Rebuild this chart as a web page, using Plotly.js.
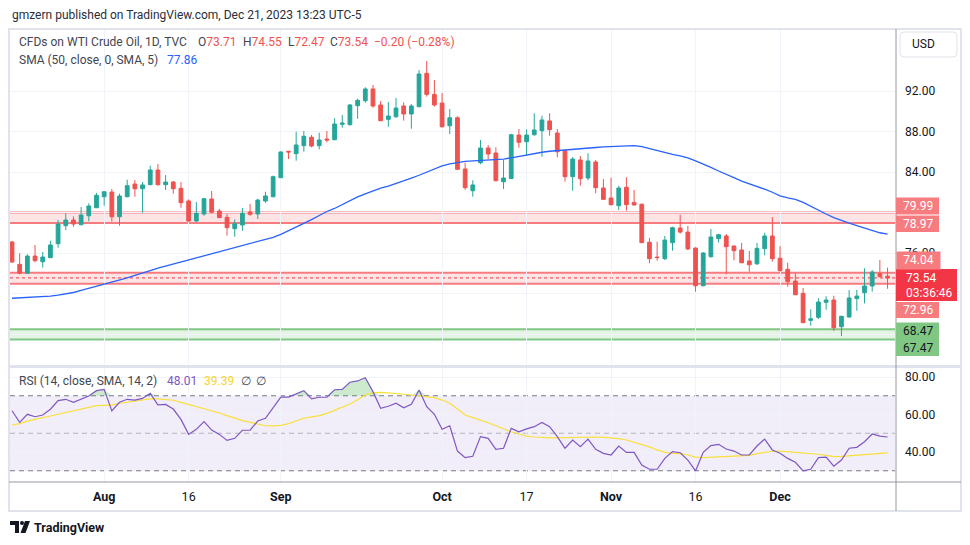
<!DOCTYPE html>
<html><head><meta charset="utf-8">
<script src="https://cdn.plot.ly/plotly-3.0.1.min.js"></script>
<style>html,body{margin:0;padding:0;background:#fff}#chart{width:970px;height:545px}</style>
</head><body><div id="chart"></div>
<script>
// ---- data (daily, Jul 14 – Dec 21 2023, weekdays) ----
const firstDay = '2023-07-14', lastDay = '2023-12-21';
const open = [77.09,74.88,74.00,75.70,75.14,75.54,76.92,78.70,79.26,78.79,
79.68,80.47,81.56,82.02,79.58,81.56,82.81,82.35,82.75,84.20,
82.75,83.01,82.39,81.14,79.16,79.85,81.33,80.15,79.53,78.40,
78.77,80.05,79.85,81.14,81.56,83.44,86.04,85.81,86.60,87.43,
86.60,87.26,87.19,88.71,88.67,90.55,91.04,92.20,90.62,89.20,
89.46,90.52,89.73,90.45,93.75,91.67,90.81,88.57,89.36,84.30,
82.15,84.92,86.37,85.88,83.04,83.35,87.65,86.99,87.68,88.08,
89.04,87.85,86.10,83.54,85.19,83.41,84.99,82.42,81.43,80.67,
82.49,81.00,80.81,77.06,75.60,75.44,77.02,78.47,78.07,76.49,
72.77,75.64,77.42,77.68,76.69,76.30,75.21,74.94,76.43,77.68,
75.48,74.39,73.23,72.02,69.35,69.65,71.13,71.36,68.72,69.68,
71.50,72.08,72.74,73.96,73.71];
const high = [77.19,75.97,75.87,76.79,76.10,77.21,79.26,79.92,79.62,80.54,
80.91,81.93,82.12,82.32,81.86,83.24,83.21,83.01,84.62,84.79,
83.70,83.11,83.01,81.30,81.04,81.46,82.12,80.35,79.85,79.33,
80.44,80.84,81.36,82.05,83.64,86.04,86.10,87.98,88.05,87.65,
87.88,88.05,89.30,89.63,90.72,91.24,92.37,92.59,91.01,90.91,
91.31,90.88,90.72,94.07,94.96,93.09,91.80,90.22,89.50,84.92,
83.18,87.16,86.67,86.44,85.19,87.78,88.25,88.22,89.80,89.56,
89.80,88.25,86.15,85.48,85.58,85.85,85.19,83.31,83.44,82.65,
83.48,82.22,80.91,77.48,77.12,77.68,78.60,79.78,78.67,76.56,
76.10,78.37,77.88,77.88,76.75,76.99,76.20,76.99,78.00,79.56,
76.69,75.04,74.00,72.54,70.44,71.53,71.72,71.78,69.80,72.35,
72.35,74.49,74.32,75.31,74.55];
const low = [75.05,73.90,73.95,75.08,74.55,75.50,76.52,78.27,78.60,78.75,
79.13,80.45,80.67,79.10,78.70,81.50,81.56,79.98,82.70,82.65,
82.22,81.86,80.47,79.06,79.06,79.68,79.92,79.45,77.71,77.61,
78.20,79.68,79.36,80.97,81.50,83.40,85.28,85.12,86.00,86.44,
86.24,86.93,87.15,88.38,88.60,89.26,90.84,90.35,89.00,88.47,
89.36,89.07,88.28,90.40,91.44,90.45,88.40,87.75,84.20,82.25,
81.56,84.76,85.25,83.10,82.32,83.30,86.40,85.65,87.60,85.51,
87.59,85.45,83.04,82.15,82.65,83.18,81.90,81.25,80.70,80.25,
80.18,80.70,77.00,74.98,75.24,75.31,76.23,77.91,76.30,72.18,
72.70,75.54,77.02,73.90,75.28,75.00,74.15,74.81,75.77,75.14,
74.20,72.67,71.85,69.10,68.82,69.48,70.40,68.30,67.80,69.61,
70.30,71.03,72.18,73.60,72.47];
const close = [75.11,74.00,75.70,75.24,75.60,76.79,78.86,79.26,78.86,79.75,
80.64,81.70,82.05,79.58,81.63,82.65,82.35,82.72,84.20,82.75,
83.01,82.35,80.97,79.16,79.92,81.36,80.02,79.49,78.50,78.89,
79.92,79.82,81.23,81.63,83.54,85.98,85.98,86.67,87.53,86.57,
87.16,87.16,88.74,88.84,90.62,91.08,92.20,90.52,89.07,89.53,
90.32,89.73,90.52,93.68,91.67,90.62,88.47,89.36,84.27,82.45,
82.72,86.37,85.78,83.14,83.41,87.68,86.93,87.65,88.15,89.14,
88.18,86.00,83.54,85.28,83.34,85.09,82.45,81.30,80.77,82.42,
80.77,80.74,77.02,75.44,75.55,77.28,78.50,78.07,76.40,72.77,
76.00,77.58,77.81,76.62,76.23,75.04,74.84,76.46,77.68,75.44,
74.25,73.17,71.88,69.12,69.51,71.16,71.36,68.62,69.75,71.56,
71.75,72.74,74.12,73.66,73.54];
const sma50 = [71.53,71.57,71.60,71.63,71.68,71.75,71.85,71.95,72.10,72.30,
72.50,72.72,72.92,73.12,73.30,73.55,73.80,74.00,74.25,74.50,
74.70,74.90,75.10,75.30,75.50,75.70,75.92,76.10,76.30,76.50,
76.70,76.92,77.10,77.30,77.55,77.85,78.20,78.55,78.90,79.30,
79.70,80.10,80.40,80.80,81.20,81.55,81.85,82.15,82.40,82.60,
82.85,83.10,83.40,83.68,84.00,84.35,84.60,84.80,84.95,85.05,
85.10,85.15,85.20,85.22,85.28,85.40,85.55,85.70,85.85,85.95,
86.05,86.10,86.18,86.25,86.30,86.36,86.42,86.48,86.52,86.57,
86.60,86.60,86.50,86.30,86.10,85.90,85.75,85.60,85.40,85.10,
84.80,84.45,84.10,83.80,83.45,83.10,82.85,82.60,82.30,82.00,
81.65,81.45,81.30,81.00,80.60,80.20,79.85,79.50,79.20,78.95,
78.70,78.45,78.20,78.00,77.86];
const rsi = [62.0,55.8,60.1,58.8,59.7,62.8,67.4,68.1,66.5,68.1,
69.9,72.7,73.4,61.9,66.5,68.1,67.7,68.6,71.3,65.1,
65.4,62.9,57.4,49.4,52.1,56.2,51.7,49.4,46.2,47.3,
51.6,51.6,56.5,58.0,63.6,69.3,69.3,71.1,72.7,68.3,
69.2,69.3,73.2,73.4,77.2,77.9,79.6,72.2,63.3,64.4,
66.0,63.6,65.4,73.1,64.2,60.1,52.1,54.0,40.5,37.0,
37.7,48.2,47.3,41.4,42.0,52.6,50.8,52.3,53.5,55.8,
53.5,48.2,42.0,46.4,42.8,46.9,41.4,39.3,38.4,43.2,
39.8,39.8,33.1,30.8,30.8,36.6,40.2,39.6,35.7,29.9,
39.8,43.4,44.1,41.6,40.5,38.4,38.4,43.2,46.9,41.1,
39.3,36.6,34.5,29.9,30.8,37.0,37.3,32.4,35.7,42.0,
42.5,45.5,49.6,48.5,48.0];
const rsiMa = [54.4,55.1,56.5,57.6,58.3,59.2,60.1,60.8,61.9,62.8,
63.8,64.7,64.9,65.1,66.0,66.5,67.2,67.7,68.3,68.3,
68.1,67.6,66.5,65.4,64.2,63.3,61.9,60.8,59.4,58.0,
56.7,55.8,54.8,54.0,53.9,54.2,55.1,56.5,58.0,58.7,
59.4,60.6,62.2,63.8,65.6,67.9,70.4,71.6,71.8,71.5,
71.3,70.8,70.4,70.0,69.5,69.0,67.7,66.0,62.9,59.7,
58.3,57.1,55.6,54.0,52.3,50.8,49.6,48.5,48.0,47.6,
47.5,47.5,47.6,47.8,48.2,48.2,48.0,47.8,47.5,47.1,
46.4,45.3,44.1,42.7,41.1,39.8,39.3,39.1,38.4,37.3,
37.0,37.2,37.5,37.7,37.7,37.9,38.2,39.1,39.8,40.4,
40.5,40.2,39.8,39.6,39.1,38.8,38.2,37.5,37.7,38.0,
38.2,38.4,38.8,39.1,39.5];
const tickDates = ['2023-08-01','2023-08-16','2023-09-01','2023-10-02','2023-10-17','2023-11-01','2023-11-16','2023-12-01'];
const tickLabels = ['<b>Aug</b>','16','<b>Sep</b>','<b>Oct</b>','17','<b>Nov</b>','16','<b>Dec</b>'];
const priceTicks = [68,72,76,80,84,88,92];
const priceTickText = ['','','76.00','','84.00','88.00','92.00'];
const rsiTicks = [40,60,80];
const redZone = [78.97, 79.99];
const midZone = [72.96, 74.04];
const lastPrice = 73.54;
const greenZone = [67.47, 68.47];

// weekday categories
const dates = [];
for (let d = new Date(firstDay + 'T00:00:00Z'); d <= new Date(lastDay + 'T00:00:00Z'); d.setUTCDate(d.getUTCDate() + 1)) {
  const wd = d.getUTCDay();
  if (wd !== 0 && wd !== 6) dates.push(d.toISOString().slice(0, 10));
}

const W = 970, H = 545;
const X = v => v / W, Y = v => 1 - v / H;
const xL = X(10), xR = X(895);
const UP = '#26a69a', DN = '#ef5350';

const traces = [
  {type:'candlestick', x:dates, open:open, high:high, low:low, close:close, xaxis:'x', yaxis:'y',
   increasing:{line:{color:UP,width:1}, fillcolor:UP}, decreasing:{line:{color:DN,width:1}, fillcolor:DN},
   whiskerwidth:0, hoverinfo:'skip'},
  {type:'scatter', mode:'lines', x:dates, y:sma50, xaxis:'x', yaxis:'y', line:{color:'#2962ff', width:1.3}, hoverinfo:'skip'},
  {type:'scatter', mode:'lines', x:dates, y:rsi.map(() => 70), xaxis:'x', yaxis:'y2', line:{width:0}, hoverinfo:'skip'},
  {type:'scatter', mode:'lines', x:dates, y:rsi.map(v => Math.max(v, 70)), xaxis:'x', yaxis:'y2', line:{width:0},
   fill:'tonexty', fillcolor:'rgba(76,175,80,0.28)', hoverinfo:'skip'},
  {type:'scatter', mode:'lines', x:dates, y:rsiMa, xaxis:'x', yaxis:'y2', line:{color:'#f9df3a', width:1.2}, hoverinfo:'skip'},
  {type:'scatter', mode:'lines', x:dates, y:rsi, xaxis:'x', yaxis:'y2', line:{color:'#7e57c2', width:1.2}, hoverinfo:'skip'}
];

const shapes = [];
function hband(zone, fill, lc, yref) {
  shapes.push({type:'rect', xref:'paper', yref:yref, x0:xL, x1:xR, y0:zone[0], y1:zone[1], fillcolor:fill, line:{width:0}, layer:'between'});
  zone.forEach(v => shapes.push({type:'line', xref:'paper', yref:yref, x0:xL, x1:xR, y0:v, y1:v, line:{color:lc, width:2}, layer:'between'}));
}
hband(redZone, 'rgba(247,124,128,0.2)', '#f77c80', 'y');
hband(midZone, 'rgba(247,124,128,0.2)', '#f77c80', 'y');
hband(greenZone, 'rgba(129,199,132,0.22)', '#81c784', 'y');
shapes.push({type:'line', xref:'paper', yref:'y', x0:xL, x1:xR, y0:lastPrice, y1:lastPrice, line:{color:'#f23645', width:1, dash:'dot'}, layer:'between'});
// RSI band
shapes.push({type:'rect', xref:'paper', yref:'y2', x0:xL, x1:xR, y0:30, y1:70, fillcolor:'rgba(126,87,194,0.1)', line:{width:0}, layer:'below'});
[70, 30].forEach(v => shapes.push({type:'line', xref:'paper', yref:'y2', x0:xL, x1:xR, y0:v, y1:v, line:{color:'#787b86', width:1, dash:'5px,4px'}, layer:'between'}));
shapes.push({type:'line', xref:'paper', yref:'y2', x0:xL, x1:xR, y0:50, y1:50, line:{color:'rgba(120,123,134,0.5)', width:1, dash:'5px,4px'}, layer:'between'});

// frame
const pl = (x0,y0,x1,y1,c,w) => shapes.push({type:'line', xref:'paper', yref:'paper', x0:X(x0), y0:Y(y0), x1:X(x1), y1:Y(y1), line:{color:c, width:w}, layer:'above'});
shapes.push({type:'rect', xref:'paper', yref:'paper', x0:X(9), x1:X(961), y0:Y(511), y1:Y(29), line:{color:'#e0e3eb', width:2}, fillcolor:'rgba(0,0,0,0)', layer:'above'});
pl(9, 366.5, 961, 366.5, '#e0e3eb', 3);
pl(9, 482, 961, 482, '#9598a1', 1);
pl(896, 29, 896, 511, '#9598a1', 1);
// USD button
(function(){const x0=900,x1=957,y0=32,y1=57,r=4;
shapes.push({type:'path', xref:'paper', yref:'paper', layer:'above', line:{color:'#e0e3eb', width:1}, fillcolor:'#fff',
 path:`M${X(x0+r)},${Y(y0)} L${X(x1-r)},${Y(y0)} Q${X(x1)},${Y(y0)} ${X(x1)},${Y(y0+r)} L${X(x1)},${Y(y1-r)} Q${X(x1)},${Y(y1)} ${X(x1-r)},${Y(y1)} L${X(x0+r)},${Y(y1)} Q${X(x0)},${Y(y1)} ${X(x0)},${Y(y1-r)} L${X(x0)},${Y(y0+r)} Q${X(x0)},${Y(y0)} ${X(x0+r)},${Y(y0)} Z`});})();
// price label boxes
const box = (x0,x1,y0,y1,c) => shapes.push({type:'rect', xref:'paper', yref:'paper', x0:X(x0), x1:X(x1), y0:Y(y1), y1:Y(y0), fillcolor:c, line:{width:0}, layer:'above'});
box(896, 939, 197.5, 214.5, '#f77c80');
box(896, 939, 215.5, 232, '#f77c80');
box(896, 957, 269, 301, '#f23645');
box(896, 939, 302, 318, '#f77c80');
box(896, 939, 322.5, 356, '#81c784');
// logo
shapes.push({type:'path', xref:'paper', yref:'paper', layer:'above', fillcolor:'#131722', line:{width:0},
  path:`M${X(10)},${Y(521)} L${X(19)},${Y(521)} L${X(19)},${Y(533)} L${X(15)},${Y(533)} L${X(15)},${Y(525)} L${X(10)},${Y(525)} Z`});
shapes.push({type:'circle', xref:'paper', yref:'paper', layer:'above', fillcolor:'#131722', line:{width:0}, x0:X(20), x1:X(24), y0:Y(525), y1:Y(521)});
shapes.push({type:'path', xref:'paper', yref:'paper', layer:'above', fillcolor:'#131722', line:{width:0},
  path:`M${X(25)},${Y(521)} L${X(30)},${Y(521)} L${X(25.5)},${Y(533)} L${X(20.5)},${Y(533)} Z`});

const F = 'Roboto, "Noto Sans", sans-serif';
const FS = 12;
const ann = (text, x, y, o = {}) => Object.assign({text, x:X(x), y:Y(y), xref:'paper', yref:'paper', xanchor:'left', yanchor:'middle',
  showarrow:false, font:{family:F, size:FS, color:'#131722'}}, o);
const RED = '#ef5350', GR = '#434651';
const sp = (c, t) => `<span style="color:${c}">${t}</span>`;
const gf = {family:F, size:FS, color:GR};
const annotations = [
  ann('gmzern published on TradingView.com, Dec 21, 2023 13:23 UTC-5', 10, 15, {font:{family:F, size:FS, color:'#2a2e39'}}),
  ann('CFDs on WTI Crude Oil, 1D, TVC', 17, 42.5, {font:gf}),
  ann('O' + sp(RED, '73.71'), 196, 42.5, {font:gf}),
  ann('H' + sp(RED, '74.55'), 241, 42.5, {font:gf}),
  ann('L' + sp(RED, '72.47'), 286, 42.5, {font:gf}),
  ann('C' + sp(RED, '73.54'), 328, 42.5, {font:gf}),
  ann(sp(RED, '−0.20 (−0.28%)'), 372, 42.5, {font:gf}),
  ann('SMA (50, close, 0, SMA, 5)', 17, 59.5, {font:gf}),
  ann(sp('#2962ff', '77.86'), 165, 59.5, {font:gf}),
  ann('RSI (14, close, SMA, 14, 2)', 17, 381, {font:gf}),
  ann(sp('#7e57c2', '48.01'), 165, 381, {font:gf}),
  ann(sp('#f7d52c', '39.39'), 202, 381, {font:gf}),
  ann('∅', 239, 381, {font:gf}),
  ann('∅', 254, 381, {font:gf}),
  ann('USD', 910, 44.5, {font:{family:F, size:12, color:'#131722'}}),
  ann('79.99', 917.5, 206, {xanchor:'center', font:{family:F, size:12, color:'#fff'}}),
  ann('78.97', 917.5, 223.5, {xanchor:'center', font:{family:F, size:12, color:'#fff'}}),
  ann('74.04', 896, 260.75, {xanchor:'left', bgcolor:'#f77c80', width:43, height:16.5, borderpad:0, align:'center',
     font:{family:F, size:12, color:'#fff'}}),
  ann('73.54', 904, 278, {font:{family:F, size:12, color:'#fff'}}),
  ann('03:36:46', 904, 293, {font:{family:F, size:12, color:'#fff'}}),
  ann('72.96', 917.5, 310, {xanchor:'center', font:{family:F, size:12, color:'#fff'}}),
  ann('68.47', 917.5, 331, {xanchor:'center', font:{family:F, size:12, color:'#131722'}}),
  ann('67.47', 917.5, 347.5, {xanchor:'center', font:{family:F, size:12, color:'#131722'}}),
  ann('<b>TradingView</b>', 32, 527, {font:{family:F, size:12.5, color:'#131722'}})
];

const layout = {
  width:W, height:H, margin:{l:0, r:0, t:0, b:0}, paper_bgcolor:'#fff', plot_bgcolor:'rgba(0,0,0,0)',
  showlegend:false, font:{family:F, size:12, color:'#131722'},
  xaxis:{domain:[xL, xR], anchor:'y2', type:'category', range:[-0.26, 114.97], tickmode:'array', tickvals:tickDates, ticktext:tickLabels,
    showgrid:true, gridcolor:'#f0f3fa', gridwidth:1, zeroline:false, showline:false, ticks:'', ticklabelstandoff:5,
    tickfont:{family:F, size:12.5, color:'#131722'}, rangeslider:{visible:false}, fixedrange:true},
  yaxis:{domain:[Y(365), Y(30)], anchor:'x', side:'right', range:[64.94, 98.025], tickmode:'array', tickvals:priceTicks,
    ticktext:priceTickText, showgrid:true, gridcolor:'#f0f3fa', zeroline:false, showline:false, ticks:'',
    ticklabelstandoff:9, tickfont:{family:F, size:12, color:'#131722'}, fixedrange:true},
  yaxis2:{domain:[Y(482), Y(368)], anchor:'x', side:'right', range:[24.0, 84.8], tickmode:'array', tickvals:rsiTicks,
    ticktext:rsiTicks.map(v => v.toFixed(2)), showgrid:true, gridcolor:'#f0f3fa', zeroline:false, showline:false, ticks:'',
    ticklabelstandoff:9, tickfont:{family:F, size:12, color:'#131722'}, fixedrange:true},
  shapes, annotations
};
Plotly.newPlot('chart', traces, layout, {staticPlot:true, displayModeBar:false});
</script></body></html>
